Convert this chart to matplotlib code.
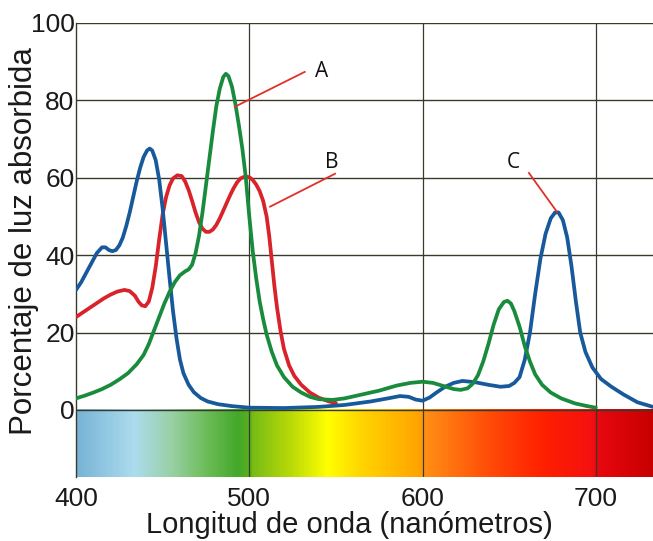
import numpy as np
import matplotlib
matplotlib.use('Agg')
import matplotlib.pyplot as plt
from matplotlib.colors import LinearSegmentedColormap

# --- data ---
blue_x = [400, 403, 406, 409, 412, 415, 417, 419, 421, 423, 425, 427, 429, 431, 433, 435,
          437, 439, 441, 442.5, 444, 446, 448, 450, 452, 454, 456, 458, 460, 462, 465, 468,
          472, 476, 482, 490, 500, 520, 540, 555, 570, 580, 587, 592, 596, 600, 604, 608,
          613, 618, 623, 630, 638, 645, 650, 653, 656, 659, 662, 665, 668, 671, 674, 676.5,
          678.5, 681, 683.5, 686, 688.5, 691, 694, 698, 703, 709, 716, 724, 733]
blue_y = [31, 33, 35.5, 38, 40.5, 42, 42, 41.3, 41, 41.3, 42.5, 44.5, 47.5, 51, 55, 59,
          62.5, 65.3, 67, 67.5, 67, 64.5, 59.5, 52, 43, 34, 25.5, 18.5, 13, 9.5, 6.5, 4.6,
          3.1, 2.2, 1.5, 1, 0.6, 0.5, 0.8, 1.3, 2.2, 3, 3.6, 3.4, 2.7, 2.4, 3.2, 4.5,
          6, 7, 7.5, 7.2, 6.5, 6, 6.2, 7, 8.5, 13, 20, 30, 39, 45.5, 49.5, 51,
          51, 49, 44.5, 37, 28, 20, 15, 11, 8, 6, 4, 2, 0.8]

green_x = [400, 405, 410, 415, 420, 425, 430, 435, 439, 442, 445, 448, 451, 454, 457, 460,
           463, 465, 467, 469, 471, 473, 475, 477, 479, 481, 483, 485, 486.5, 488, 490, 492,
           494, 496, 498, 500, 502, 504, 506, 508, 510, 513, 516, 520, 525, 530, 535, 540,
           548, 555, 565, 575, 585, 593, 600, 606, 612, 618, 622, 626, 629, 632, 635, 638,
           641, 644, 647, 649, 651, 653, 656, 659, 662, 665, 669, 674, 680, 688, 695, 700]
green_y = [3, 3.7, 4.5, 5.4, 6.5, 7.9, 9.5, 11.8, 14.2, 17, 20.5, 24, 27.5, 30.5, 33, 34.8,
           35.8, 36.3, 37.5, 40.5, 45, 51, 58, 65, 72, 78.5, 83, 86, 86.8, 86.2, 83.5, 79,
           73.5, 67.5, 60, 50, 41, 34, 28, 23.5, 19.5, 15, 11.5, 8.5, 6, 4.5, 3.4, 2.8,
           2.6, 3, 4, 5, 6.3, 7, 7.3, 7, 6.2, 5.4, 5.2, 5.6, 6.8, 9, 12.5, 17,
           22, 26, 27.9, 28.2, 27.5, 25.5, 21.5, 16.5, 12.5, 9.2, 6.5, 4.5, 3, 1.7, 1, 0.6]

red_x = [400, 404, 408, 412, 416, 420, 424, 428, 431, 434, 436, 438, 440, 442, 444, 446,
         448, 450, 452, 454, 456, 458.5, 461, 463, 465, 467, 469, 471, 473, 475, 477, 479,
         481, 483, 485, 487, 489, 491, 493, 495, 497.5, 500, 502, 504, 506, 508, 510, 511.5,
         513, 514.5, 516, 518, 520, 523, 526, 530, 535, 540, 546, 550]
red_y = [24, 25.2, 26.4, 27.6, 28.8, 29.8, 30.6, 31, 30.7, 29.5, 28, 27, 26.8, 28, 31.5, 37,
         44, 50.5, 55, 58, 59.8, 60.6, 60.4, 59, 56.8, 54, 51, 48.5, 46.8, 46, 46, 46.6,
         47.8, 49.5, 51.5, 53.5, 55.5, 57.3, 58.8, 59.8, 60.3, 60.1, 59.4, 58.2, 56.5, 54, 50, 45,
         38.5, 32, 26.5, 20.5, 15.8, 11.5, 8.8, 6.5, 4.5, 3.2, 2.2, 1.8]

labels = ['A', 'B', 'C']
label_xy = [(542, 87.3), (547.5, 63.9), (652.3, 63.8)]
leader_start = [(532, 87.3), (549.5, 61.0), (661.4, 61.2)]
leader_end = [(491.7, 78.3), (512, 52.5), (677.5, 51.2)]

x_ticks = [400, 500, 600, 700]
y_ticks = [0, 20, 40, 60, 80, 100]

# spectrum strip colours (wavelength, colour)
spectrum = [(400, '#78b4d6'), (433, '#acdcee'), (455, '#98d0a4'), (475, '#6cbc58'),
            (493, '#44a82a'), (500, '#58b01e'), (502, '#78bc14'), (525, '#bcdc08'),
            (545, '#ffff00'), (565, '#ffd400'), (598, '#ffa400'), (602, '#ff8e14'),
            (640, '#ff4a08'), (670, '#ff2000'), (699, '#f41010'), (701, '#e80810'),
            (733, '#c80000')]

xmin, xmax = 400, 733
ymin, ymax = -17.3, 100

plt.rcParams['font.family'] = ['Liberation Sans', 'DejaVu Sans']

fig = plt.figure(figsize=(6.53, 5.41), dpi=100, facecolor='white')
ax = fig.add_axes([76 / 653, 64 / 541, 577 / 653, 454.3 / 541])

# spectrum strip below zero
stops = [((w - xmin) / (xmax - xmin), c) for w, c in spectrum]
cmap = LinearSegmentedColormap.from_list('spec', stops)
grad = np.linspace(0, 1, 600).reshape(1, -1)
ax.imshow(grad, cmap=cmap, extent=[xmin, xmax, ymin, 0], aspect='auto',
          interpolation='bilinear', zorder=1)

# grid lines
grid_col = '#3a3a2c'
for yv in y_ticks:
    ax.axhline(yv, color=grid_col, lw=1.0, zorder=2)
for xv in x_ticks[1:]:
    ax.axvline(xv, color=grid_col, lw=0.9, zorder=2)

# curves
style = dict(lw=2.7, solid_capstyle='round', solid_joinstyle='round')
ax.plot(red_x, red_y, color='#d8232b', zorder=3, **style)
ax.plot(blue_x, blue_y, color='#17599b', zorder=4, **style)
ax.plot(green_x, green_y, color='#198b3d', zorder=5, **style)

# annotations
for lab, (tx, ty), (sx, sy), (ex, ey) in zip(labels, label_xy, leader_start, leader_end):
    ax.plot([sx, ex], [sy, ey], color='#e0302a', lw=1.3, zorder=6)
    ax.text(tx, ty, lab, fontsize=15, family=['Open Sans', 'DejaVu Sans'],
            ha='center', va='center', color='#111111', zorder=7)

ax.set_xlim(xmin, xmax)
ax.set_ylim(ymin, ymax)
ax.set_xticks(x_ticks)
ax.set_yticks(y_ticks)
ax.tick_params(axis='both', length=0, labelsize=19, colors='#1a1a1a')
ax.tick_params(axis='y', pad=1)
ax.tick_params(axis='x', pad=7)

for side in ['top', 'right', 'bottom']:
    ax.spines[side].set_visible(False)
ax.spines['left'].set_color(grid_col)
ax.spines['left'].set_linewidth(1.0)

# axis titles placed like in the original (y title centred on the 0-100 part)
fig.text(349 / 653, 1 - 525 / 541, 'Longitud de onda (nanómetros)', fontsize=21,
         color='#1a1a1a', ha='center', va='center')
fig.text(24 / 653, 1 - 241 / 541, 'Porcentaje de luz absorbida', fontsize=22.5,
         color='#1a1a1a', ha='center', va='center', rotation=90)

plt.savefig('out.png', dpi=100, facecolor='white')
